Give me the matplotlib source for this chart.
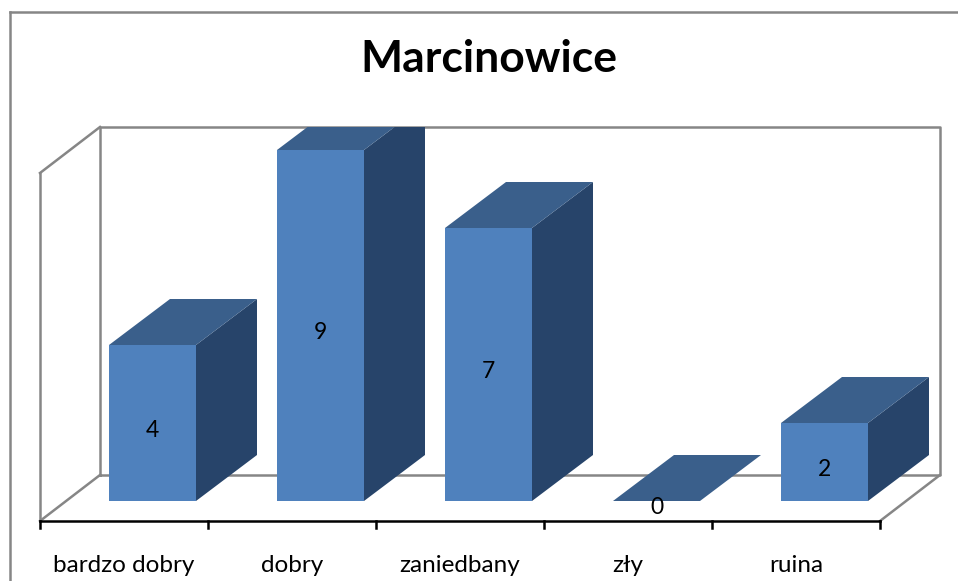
import matplotlib
matplotlib.use("Agg")
import matplotlib.pyplot as plt
from matplotlib.patches import Polygon, Rectangle
from matplotlib.lines import Line2D

title = "Marcinowice"
categories = ["bardzo dobry", "dobry", "zaniedbany", "zły", "ruina"]
values = [4, 9, 7, 0, 2]

plt.rcParams["font.family"] = ["Lato", "DejaVu Sans"]

W, H = 958, 581
fig = plt.figure(figsize=(W / 100, H / 100), dpi=100)
ax = fig.add_axes([0, 0, 1, 1])
ax.set_axis_off()

# pixel scale of the fake 3d projection
slot_px = 168.0    # px per category
unit_px = 39.0     # px per value unit
left_px = 40.0     # left end of the front floor edge
zero_px = 501.0    # bar front bottom
ax.set_xlim(-0.5 - left_px / slot_px, -0.5 + (W - left_px) / slot_px)
ax.set_ylim(-(H - zero_px) / unit_px, zero_px / unit_px)

dx = 61 / slot_px          # depth shift of bars
dy = 46 / unit_px
wdx = 60 / slot_px         # depth shift of walls
floor_y = -20 / unit_px    # front floor edge
wall_top = floor_y + dy + 348 / unit_px
n = len(categories)
xa, xb = -0.5, n - 0.5

wall = dict(color="#868686", lw=1.8, solid_capstyle="projecting", zorder=1)
# back wall
ax.plot([xa + wdx, xb + wdx, xb + wdx, xa + wdx, xa + wdx],
        [floor_y + dy, floor_y + dy, wall_top, wall_top, floor_y + dy], **wall)
# side wall
ax.plot([xa, xa + wdx], [wall_top - dy, wall_top], **wall)
ax.plot([xa, xa], [floor_y, wall_top - dy], **wall)
# floor
ax.plot([xa, xa + wdx], [floor_y, floor_y + dy], **wall)
ax.plot([xb, xb + wdx], [floor_y, floor_y + dy], **wall)

# category axis
ax.plot([xa, xb], [floor_y, floor_y], color="black", lw=1.8, zorder=2)
for i in range(n + 1):
    ax.plot([xa + i, xa + i], [floor_y, floor_y - 7 / unit_px], color="black", lw=1.8, zorder=2)
for i, c in enumerate(categories):
    ax.text(i, -65 / unit_px, c, ha="center", va="center", fontsize=17.5, color="black")

clip = Rectangle((xa - 1, -10), n + 2, wall_top + 10, transform=ax.transData)

front_c, top_c, side_c = "#4F81BD", "#3A5F8B", "#27446A"
off = 28.5 / slot_px
hw = 43.5 / slot_px
for i, v in enumerate(values):
    l, r = i + off - hw, i + off + hw
    faces = []
    if v > 0:
        faces.append((Polygon([(r, 0), (r + dx, dy), (r + dx, v + dy), (r, v)]), side_c))
        faces.append((Polygon([(l, 0), (r, 0), (r, v), (l, v)]), front_c))
    faces.append((Polygon([(l, v), (r, v), (r + dx, v + dy), (l + dx, v + dy)]), top_c))
    for p, col in faces:
        p.set_facecolor(col)
        p.set_edgecolor("none")
        p.set_zorder(3)
        ax.add_patch(p)
        p.set_clip_path(clip)
    ty = v / 2 - 7 / unit_px if v > 0 else -7 / unit_px
    ax.text(i + off, ty, str(v), ha="center", va="center", fontsize=16.5, color="black", zorder=4)

fig.text(489 / W, 1 - 59 / H, title, ha="center", va="center", fontsize=32, fontweight="bold")

# chart frame
fig.add_artist(Line2D([9.5 / W, 9.5 / W], [0, 1 - 11.5 / H], color="#868686", lw=1.8))
fig.add_artist(Line2D([9.5 / W, 1], [1 - 11.5 / H, 1 - 11.5 / H], color="#868686", lw=1.8))

fig.savefig("out.png", dpi=100)
